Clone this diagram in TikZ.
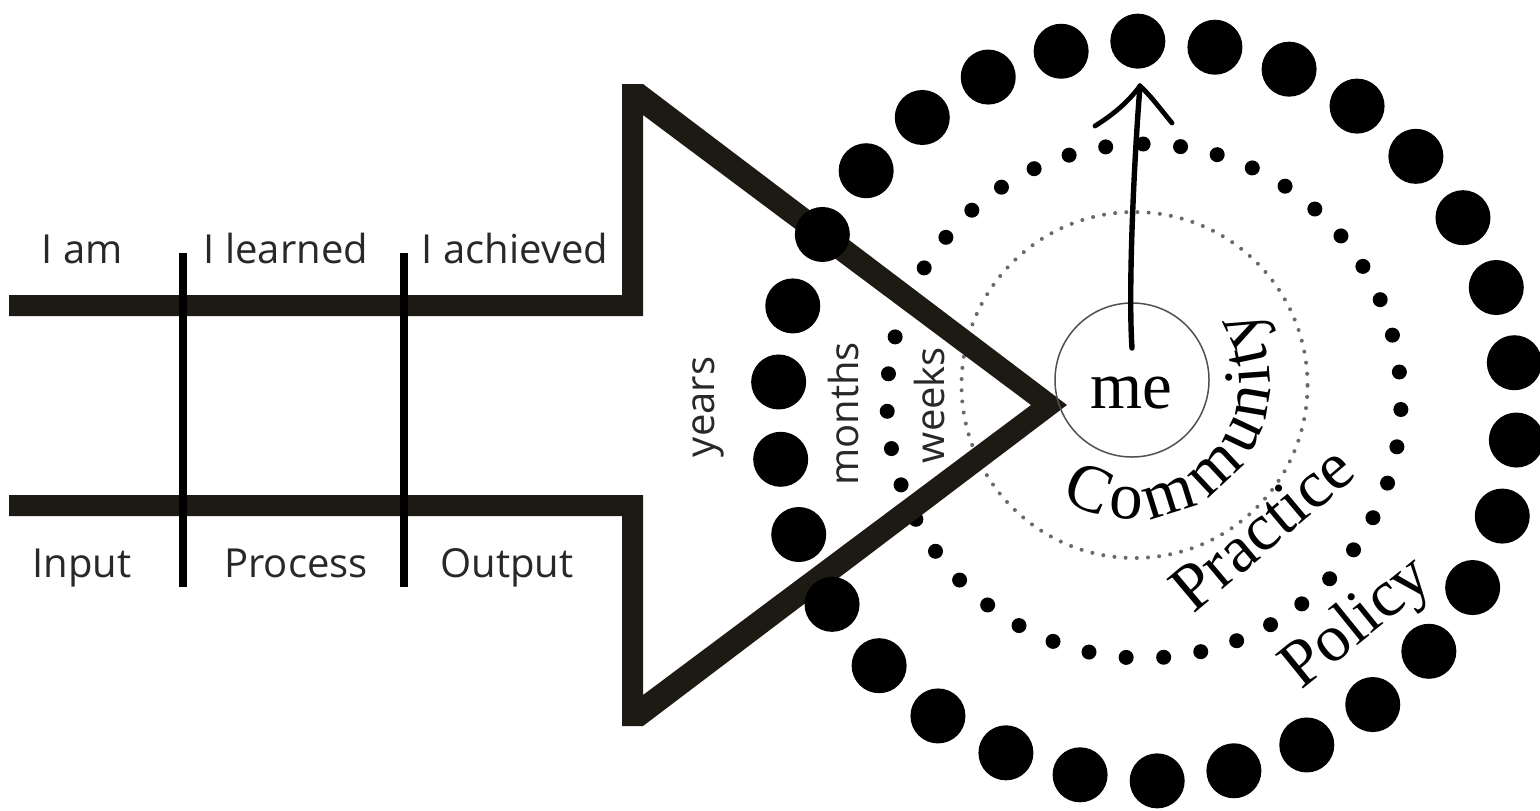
\documentclass[tikz,border=0pt]{standalone}
\usepackage{fontspec}
\newfontfamily\sansfnt{Open Sans}
\newfontfamily\seriffnt{Liberation Serif}
\usetikzlibrary{decorations.text}
\definecolor{arrowcol}{RGB}{28,26,18}
\definecolor{textcol}{RGB}{40,40,40}
\definecolor{dotgray}{RGB}{105,105,105}
\definecolor{ringgray}{RGB}{80,80,80}
\begin{document}
\begin{tikzpicture}[x=0.5pt,y=-0.5pt,
  outline/.style={fill=arrowcol},
  divider/.style={draw=black, line width=4.2pt},
  lbl/.style={font=\sansfnt\fontsize{20}{24}\selectfont, text=textcol, inner sep=0pt, anchor=base},
  vlbl/.style={lbl, rotate=90},
  ringlbl/.style={font=\seriffnt\fontsize{33.5}{40}\selectfont, text=black, inner sep=0pt, anchor=base},
  bigdot/.style={fill=black},
  middot/.style={fill=black},
  thindots/.style={draw=dotgray, line width=2pt, line cap=round, dash pattern=on 0pt off 5.6pt},
  mecircle/.style={circle, draw=ringgray, line width=0.75pt, minimum size=77pt, inner sep=0pt},
  hand/.style={draw=black, line width=2.7pt, line cap=round}
]
\useasboundingbox (0,0) rectangle (1540,810);
\fill[white] (0,0) rectangle (1540,810);

% middle ring of dots
\foreach \i in {0,...,42}{
  \fill[middot] ({1144+257*cos(90.2+\i*360/43)},{401-257*sin(90.2+\i*360/43)}) circle[radius=3.75pt];
}
% thin dotted ring
\draw[thindots] (1134.5,385) circle[radius=86.5pt];

% arrow outline
\fill[outline] (9,295) -- (622,295) -- (622,84) -- (643,84) -- (1067,405) -- (643,726) -- (622,726)
  -- (622,516) -- (9,516) -- (9,495) -- (643,495) -- (643,695) -- (1031,405) -- (643,115)
  -- (643,316) -- (9,316) -- cycle;

% dividers
\coordinate (d1top) at (183,253); \coordinate (d1bot) at (183,587);
\coordinate (d2top) at (404,253); \coordinate (d2bot) at (404,587);
\draw[divider] (d1top) -- (d1bot);
\draw[divider] (d2top) -- (d2bot);

% outer ring of big dots
\foreach \i in {0,...,29}{
  \fill[bigdot] ({1147.5+370*cos(91.5+\i*12)},{411-370*sin(91.5+\i*12)}) circle[radius=13.75pt];
}

% labels
\node[lbl] (iam) at (82,263) {I am};
\node[lbl] (ilearned) at (286,263) {I learned};
\node[lbl] (iachieved) at (515,263) {I achieved};
\node[lbl] (input) at (82,577) {Input};
\node[lbl] (process) at (296,577) {Process};
\node[lbl] (output) at (507,577) {Output};
\node[vlbl] (years) at (714,407) {years};
\node[vlbl] (months) at (858,414) {months};
\node[vlbl] (weeks) at (944,405) {weeks};

% me
\node[mecircle] (me) at (1132,380) {};
\node[ringlbl] (metext) at (1131,408) {me};

% circle labels
\path[decorate, decoration={text along path, text align=center, raise=-10pt,
  text={|\seriffnt\fontsize{33.5}{40}\selectfont|Community}}]
  plot[domain=198:432, samples=120] ({1133+117*cos(\x)},{382-117*sin(\x)});
\node[ringlbl, rotate=40] (practice) at (1276,545) {Practice};
\node[ringlbl, rotate=39] (policy) at (1368,637) {Policy};

% hand drawn arrow
\coordinate (shaftstart) at (1132,348);
\coordinate (tipc) at (1140,86);
\coordinate (armL) at (1095,126);
\coordinate (armR) at (1172,123);
\draw[hand] (shaftstart) .. controls (1128,290) and (1134,160) .. (tipc);
\draw[hand, line width=2.4pt] (tipc) .. controls (1128,102) and (1114,114) .. (armL);
\draw[hand, line width=2.4pt] (tipc) .. controls (1152,97) and (1161,110) .. (armR);
\end{tikzpicture}
\end{document}
